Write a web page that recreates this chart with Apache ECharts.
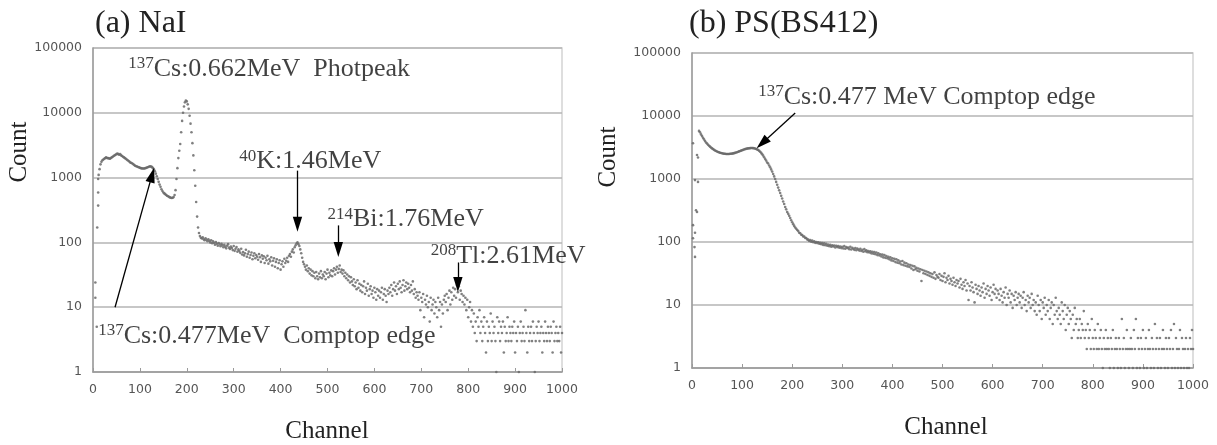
<!DOCTYPE html>
<html><head><meta charset="utf-8">
<script src="https://cdn.jsdelivr.net/npm/echarts@6/dist/echarts.min.js"></script>
<style>html,body{margin:0;padding:0;background:#fff}#c{width:1217px;height:445px}</style>
</head><body><div id="c"></div>
<script>
// ---- data ----
const naiStartChannel = 12, naiChannelStep = 2;
const naiCounts = [
1100,1350,1600,1750,1850,1900,1950,2000,2050,2000,
2000,1980,1950,2000,2050,2100,2150,2200,2250,2300,
2350,2300,2250,2300,2200,2150,2100,2050,2000,1950,
1900,1850,1800,1750,1700,1680,1650,1600,1560,1520,
1500,1480,1460,1440,1420,1400,1390,1380,1380,1390,
1400,1420,1440,1460,1480,1490,1480,1450,1400,1330,
1250,1150,1050,950,860,780,720,660,620,590,
570,555,540,525,515,505,495,490,485,490,
500,540,640,950,1400,2000,2600,3300,5000,7500,
10000,12500,14500,15500,15000,13500,11500,9000,6800,5000,
3400,2200,1300,750,420,250,170,140,125,118,
115,120,112,108,116,110,104,112,106,100,
108,97,104,99,92,101,95,89,98,93,
87,95,90,84,92,86,81,89,94,83,
79,86,82,76,88,74,80,85,72,78,
74,69,80,65,71,63,68,77,60,66,
72,58,64,70,55,62,68,57,64,60,
54,66,59,50,63,56,61,48,58,53,
62,47,55,51,59,44,52,57,42,50,
55,40,48,53,38,46,51,42,56,48,
52,58,50,62,66,60,72,78,70,84,
90,96,100,94,88,78,68,58,50,46,
42,38,44,36,40,33,38,31,36,30,
34,28,35,30,27,33,29,36,28,32,
30,35,27,33,38,29,34,31,37,30,
36,40,32,38,42,34,39,44,35,38,
33,37,30,34,28,32,26,30,24,29,
25,22,27,21,24,19,26,20,23,18,
22,17,21,25,16,20,18,23,15,19,
21,16,18,14,20,17,13,19,15,18,
14,17,20,13,16,19,15,12,18,16,
20,17,22,15,19,24,18,21,16,23,
19,25,20,17,22,26,18,21,24,19,
23,20,17,22,18,25,16,19,14,17,
15,13,17,9,14,12,16,7,13,11,
15,10,12,6,14,9,11,13,8,12,
10,7,14,9,12,5,11,8,13,15,
12,16,9,14,18,11,17,13,20,15,
19,14,22,17,21,13,18,16,12,15,
11,14,9,13,7,10,12,6,9,5,
8,4,6,3,7,5,9,4,6,3,
5,7,4,2,6,3,5,4,8,3,
6,4,5,3,1,7,4,6,3,5,
4,6,2,5,3,4,7,3,5,4,
3,5,4,6,2,4,3,5,1,4,
6,3,4,5,3,9,4,2,5,3,
4,5,3,6,4,1,3,5,4,6,
3,4,5,2,4,3,6,4,3,5,
4,3,5,4,2,6,3,4,5,3,
4,3,5,2,4
];
const naiLowChannels = [11,11,11,9,5,5,8];
const naiLowCounts = [950,590,370,170,24,14,5];

const psStartChannel = 14, psChannelStep = 2;
const psCounts = [
5800,5500,5100,4800,4500,4250,4000,3800,3650,
3500,3380,3260,3150,3060,2980,2900,2840,2780,2730,
2690,2650,2610,2580,2560,2540,2520,2510,2500,2500,
2500,2500,2510,2520,2530,2550,2570,2600,2630,2660,
2700,2740,2780,2820,2860,2900,2940,2980,3010,3040,
3060,3080,3090,3100,3100,3090,3070,3040,3000,2950,
2880,2800,2700,2600,2480,2350,2220,2080,1960,1830,
1760,1640,1530,1420,1310,1200,1100,1000,900,810,
730,660,600,540,490,440,400,360,330,300,
280,260,240,222,206,192,180,170,162,155,
149,140,138,130,129,122,122,116,116,110,
109,104,107,101,105,99,103,97,100,96,
99,94,97,92,96,90,95,89,94,87,
91,86,90,84,89,85,88,82,87,83,
86,81,85,80,84,79,86,78,83,80,
82,77,84,76,81,78,75,80,74,79,
76,73,78,72,75,70,77,71,74,69,
72,68,71,66,70,65,69,64,68,62,
66,61,64,59,63,57,62,56,60,55,
58,53,57,51,55,50,54,48,53,47,
51,46,49,44,50,43,47,42,46,41,
44,40,43,38,42,36,41,37,39,35,
38,34,37,24,36,32,35,31,34,30,
33,29,32,28,31,27,33,26,30,28,
27,31,25,29,24,28,32,23,27,25,
29,22,26,24,21,27,23,20,25,22,
24,19,26,21,18,23,20,25,17,22,
12,20,17,23,19,16,11,21,18,15,
20,17,14,19,16,22,13,18,15,20,
17,14,19,12,16,21,15,18,13,17,
15,12,18,14,11,16,13,19,10,15,
13,17,11,15,9,14,12,16,10,13,
15,11,14,9,13,16,10,12,8,14,
11,13,9,15,10,12,8,11,7,14,
10,8,12,6,11,9,13,7,10,8,
12,6,9,11,5,10,7,13,8,6,
9,7,5,11,8,6,10,4,7,9,
5,8,6,3,7,4,9,5,6,3,
4,6,3,5,4,8,3,4,2,5,
3,4,2,6,3,2,4,3,2,5,
2,3,4,2,1,3,2,4,2,3,
2,1,3,2,4,1,2,3,2,1,
3,2,1,6,2,3,1,2,4,2,
1,2,3,2,1,4,2,6,1,3,
2,1,3,2,4,1,2,3,1,2,
4,2,1,3,2,1,5,2,3,1,
2,3,1,2,4,2,1,3,2,1,
3,2,4,1,2,5,1,3,2,1,
2,4,1,3,2,1,2,3,1,2,
1,3,2,4,2
];
const psLowChannels = [2,10,6,8,2,6,2,5,6,10,12,12];
const psLowCounts = [3700,2400,960,320,185,140,115,83,58,300,2200,900];

const panelTitles = ['(a) NaI', '(b) PS(BS412)'];
const xAxisTitle = 'Channel';
const yAxisTitle = 'Count';
const channelMin = 0, channelMax = 1000, channelInterval = 100;
const countMin = 1, countMax = 100000;

// ---- build ----
function pairs(start, step, counts) { return counts.map((c, i) => [start + i * step, c]); }
function zip(a, b) { return a.map((v, i) => [v, b[i]]); }

const SERIF = '"Liberation Serif","DejaVu Serif",serif';
const SANS = '"DejaVu Sans",sans-serif';
const dotColor = '#6a6a6a';

const rich = {
  s: { fontFamily: SERIF, fontSize: 17, lineHeight: 18, verticalAlign: 'top', color: '#111' },
  m: { fontFamily: SERIF, fontSize: 26, lineHeight: 28, color: '#111' }
};
function lab(sup, txt) { return '{s|' + sup + '}{m|' + txt + '}'; }

const arrowStyle = { color: '#000', width: 1.3, type: 'solid' };
const plain = v => String(v);

function xAxis(gi) {
  return {
    gridIndex: gi, type: 'value', min: channelMin, max: channelMax, interval: channelInterval,
    axisLine: { show: true, lineStyle: { color: '#9a9a9a', width: 1.5 } },
    axisTick: { show: true, inside: true, length: 4, lineStyle: { color: '#9a9a9a' } },
    splitLine: { show: false },
    axisLabel: { color: '#555', fontFamily: SANS, fontSize: 12.5, margin: 11, formatter: plain }
  };
}
function yAxis(gi) {
  return {
    gridIndex: gi, type: 'log', logBase: 10, min: countMin, max: countMax,
    axisLine: { show: true, lineStyle: { color: '#9a9a9a', width: 1.5 } },
    axisTick: { show: false },
    splitLine: { show: true, lineStyle: { color: '#b4b4b4', width: 1.5 } },
    axisLabel: { color: '#555', fontFamily: SANS, fontSize: 12.5, margin: 11, formatter: plain }
  };
}
function dots(gi, data) {
  return { type: 'scatter', xAxisIndex: gi, yAxisIndex: gi, data: data, symbolSize: 2.6,
    itemStyle: { color: dotColor, opacity: 0.85 }, silent: true, z: 3 };
}
function arrows(list) {
  return {
    silent: true, animation: false,
    symbol: ['none', 'path://M0,0L5,16L-5,16Z'], symbolSize: 15, symbolKeepAspect: true,
    lineStyle: arrowStyle, itemStyle: { color: '#000' }, label: { show: false }, emphasis: { disabled: true },
    data: list.map(a => [{ coord: a[0] }, { coord: a[1] }])
  };
}

const option = {
  animation: false,
  backgroundColor: '#fff',
  title: [
    { text: panelTitles[0], left: 90, top: 3, textStyle: { fontFamily: SERIF, fontSize: 32, fontWeight: 'normal', color: '#222' } },
    { text: panelTitles[1], left: 684, top: 3, textStyle: { fontFamily: SERIF, fontSize: 32, fontWeight: 'normal', color: '#222' } }
  ],
  grid: [
    { left: 93, top: 48, width: 469, height: 324, show: true, borderColor: '#d4d4d4', borderWidth: 1.5 },
    { left: 692, top: 53, width: 501, height: 315, show: true, borderColor: '#d4d4d4', borderWidth: 1.5 }
  ],
  xAxis: [xAxis(0), xAxis(1)],
  yAxis: [yAxis(0), yAxis(1)],
  graphic: [
    { type: 'text', x: 19, y: 152, rotation: Math.PI / 2, style: { text: yAxisTitle, font: '25px ' + SERIF, fill: '#222', align: 'center', verticalAlign: 'middle' } },
    { type: 'text', x: 608, y: 157, rotation: Math.PI / 2, style: { text: yAxisTitle, font: '25px ' + SERIF, fill: '#222', align: 'center', verticalAlign: 'middle' } },
    { type: 'text', x: 327, y: 431, style: { text: xAxisTitle, font: '25px ' + SERIF, fill: '#222', align: 'center', verticalAlign: 'middle' } },
    { type: 'text', x: 946, y: 427, style: { text: xAxisTitle, font: '25px ' + SERIF, fill: '#222', align: 'center', verticalAlign: 'middle' } }
  ],
  series: [
    dots(0, pairs(naiStartChannel, naiChannelStep, naiCounts)),
    dots(0, zip(naiLowChannels, naiLowCounts)),
    dots(1, pairs(psStartChannel, psChannelStep, psCounts)),
    dots(1, zip(psLowChannels, psLowCounts)),
    {
      type: 'scatter', xAxisIndex: 0, yAxisIndex: 0, symbolSize: 0, silent: true, clip: false, z: 5,
      label: { show: true, position: 'right', distance: 0, rich: rich },
      data: [
        { value: [75, 47700], label: { formatter: lab('137', 'Cs:0.662MeV  Photpeak') } },
        { value: [312, 1770], label: { formatter: lab('40', 'K:1.46MeV') } },
        { value: [500, 225], label: { formatter: lab('214', 'Bi:1.76MeV') } },
        { value: [720, 61], label: { formatter: lab('208', 'Tl:2.61MeV') } },
        { value: [11, 3.6], label: { formatter: lab('137', 'Cs:0.477MeV  Comptop edge') } }
      ],
      markLine: arrows([
        [[47, 10], [126, 1100]],
        [[436, 1280], [436, 190]],
        [[523, 183], [523, 78]],
        [[778, 49], [778, 22.5]]
      ])
    },
    {
      type: 'scatter', xAxisIndex: 1, yAxisIndex: 1, symbolSize: 0, silent: true, clip: false, z: 5,
      label: { show: true, position: 'right', distance: 0, rich: rich },
      data: [
        { value: [132, 20000], label: { formatter: lab('137', 'Cs:0.477 MeV Comptop edge') } }
      ],
      markLine: arrows([
        [[206, 11200], [140, 3700]]
      ])
    }
  ]
};

const chart = echarts.init(document.getElementById('c'), null, { renderer: 'canvas' });
chart.setOption(option);
</script>
</body></html>
